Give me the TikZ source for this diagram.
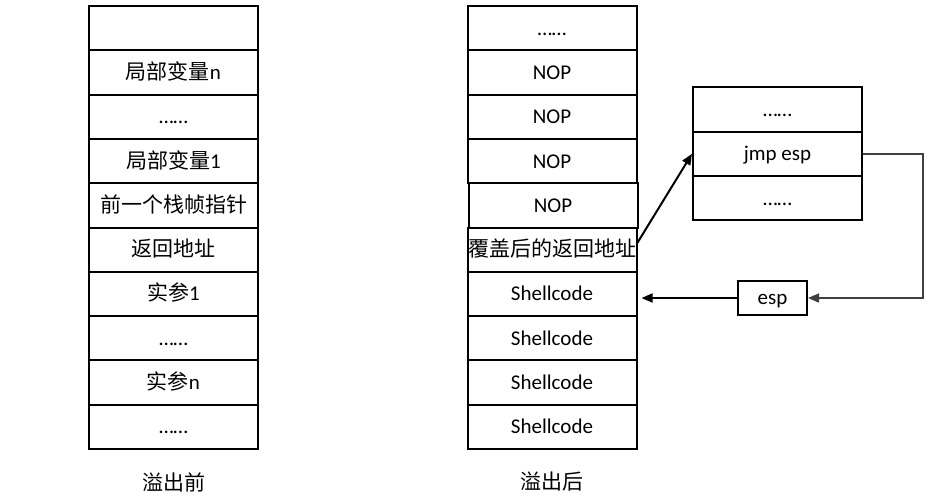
\documentclass[tikz,border=0pt]{standalone}
\usepackage{fontspec}
\setmainfont{Carlito}
\newfontfamily\cjk{Noto Sans CJK SC}
\usetikzlibrary{arrows.meta}
\tikzset{
  cell/.style={draw=black, line width=2pt, minimum width=169pt, minimum height=44.3pt,
    inner sep=0pt, text height=18pt, text depth=4pt, font=\fontsize{21}{25}\selectfont},
  espbox/.style={draw=black, line width=2pt, minimum width=69pt, minimum height=34pt,
    inner sep=0pt, text height=16pt, text depth=4pt, font=\fontsize{21}{25}\selectfont},
  caption/.style={font=\cjk\fontsize{21}{25}\selectfont, inner sep=0pt},
  conn/.style={line width=2pt, -{Triangle[length=11pt,width=9pt]}},
  grayconn/.style={draw=black!75, line width=1.6pt, -{Triangle[length=11pt,width=9pt]}}
}
\begin{document}
\begin{tikzpicture}[x=1pt,y=-1pt]
\useasboundingbox[fill=white] (0,0) rectangle (932,498);
% left stack
\node[cell] (L1) at (173.5,28.15) {};
\node[cell] (L2) at (173.5,72.45) {{\cjk 局部变量}n};
\node[cell] (L3) at (173.5,116.75) {……};
\node[cell] (L4) at (173.5,161.05) {{\cjk 局部变量}1};
\node[cell] (L5) at (173.5,205.35) {\cjk 前一个栈帧指针};
\node[cell] (L6) at (173.5,249.65) {\cjk 返回地址};
\node[cell] (L7) at (173.5,293.95) {{\cjk 实参}1};
\node[cell] (L8) at (173.5,338.25) {……};
\node[cell] (L9) at (173.5,382.55) {{\cjk 实参}n};
\node[cell] (L10) at (173.5,426.85) {……};
\node[caption] (capL) at (173.5,482) {溢出前};
% right stack
\node[cell] (R1) at (552,28.15) {……};
\node[cell] (R2) at (552,72.45) {NOP};
\node[cell] (R3) at (552,116.75) {NOP};
\node[cell] (R4) at (552,161.05) {NOP};
\node[cell] (R5) at (553,205.35) {NOP};
\node[cell] (R6) at (552,249.65) {\cjk 覆盖后的返回地址};
\node[cell] (R7) at (552,293.95) {Shellcode};
\node[cell] (R8) at (552,338.25) {Shellcode};
\node[cell] (R9) at (552,382.55) {Shellcode};
\node[cell] (R10) at (552,426.85) {Shellcode};
\node[caption] (capR) at (552,482) {溢出后};
% jmp esp box
\node[cell] (J1) at (777.5,109.5) {……};
\node[cell] (J2) at (777.5,153.8) {jmp esp};
\node[cell] (J3) at (777.5,198.1) {……};
% esp box
\node[espbox] (esp) at (772.5,298) {esp};
% connectors
\draw[conn] ([yshift=7pt]R6.east) -- (J2.west);
\draw[grayconn] (J2.east) -- ++(60,0) |- (esp.east);
\draw[conn, shorten >=4pt] (esp.west) -- (esp.west -| R7.east);
\end{tikzpicture}
\end{document}
